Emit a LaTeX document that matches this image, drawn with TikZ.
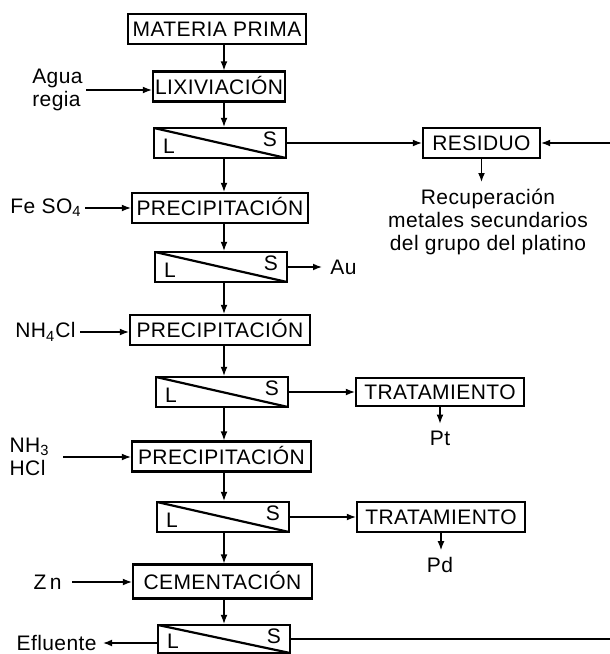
\documentclass[tikz,border=0pt]{standalone}
\usepackage{fontspec}
\setmainfont[LetterSpace=2]{Liberation Sans}
\usetikzlibrary{arrows.meta}

\tikzset{
  proc/.style={draw, line width=1.1pt, minimum height=15pt, inner sep=0pt,
    text height=7.5pt, text depth=0pt},
  letra/.style={draw=none, minimum width=0pt, minimum height=0pt, inner xsep=4pt, inner ysep=1.5pt},
  sepbox/.style={draw, line width=1.1pt, minimum width=66pt, minimum height=15pt, inner sep=0pt,
    path picture={
      \draw[line width=1.1pt] (path picture bounding box.north west) -- (path picture bounding box.south east);
      \node[letra, anchor=south west] at (path picture bounding box.south west) {L};
      \node[letra, anchor=north east] at (path picture bounding box.north east) {S};
    }},
  flecha/.style={line width=0.65pt, -{Latex[length=4.5pt,width=3.4pt]}},
  linea/.style={line width=0.65pt},
  entrada/.style={anchor=east, inner ysep=0pt, align=left}
}

\begin{document}
\begin{tikzpicture}[x=0.5pt, y=-0.5pt, font=\fontsize{10.5}{11.5}\selectfont]
    \useasboundingbox (0,0) rectangle (610,654);

    % Columna principal
    \node[proc, minimum width=89pt] (mp) at (217,29) {MATERIA PRIMA};
    \node[proc, minimum width=66pt] (lix) at (219,86.5) {LIXIVIACIÓN};
    \node[sepbox] (s1) at (220,143) {};
    \node[proc, minimum width=88pt] (pre1) at (220,208) {PRECIPITACIÓN};
    \node[sepbox] (s2) at (221,267) {};
    \node[proc, minimum width=90pt] (pre2) at (220,330) {PRECIPITACIÓN};
    \node[sepbox] (s3) at (222,392) {};
    \node[proc, minimum width=89.5pt] (pre3) at (221.5,456.5) {PRECIPITACIÓN};
    \node[sepbox] (s4) at (223,517) {};
    \node[proc, minimum width=89.5pt, minimum height=17pt] (cem) at (222.5,581.5) {CEMENTACIÓN};
    \node[sepbox, minimum height=14pt] (s5) at (224,639) {};

    \coordinate (eje) at (224,0);
    \foreach \a/\b in {mp/lix, lix/s1, s1/pre1, pre1/s2, s2/pre2, pre2/s3, s3/pre3, pre3/s4, s4/cem, cem/s5}
        \draw[flecha] (\a.south -| eje) -- (\b.north -| eje);

    % Reactivos
    \node[entrada, inner xsep=1.5pt] (agua) at (86,90) {Agua\\regia};
    \draw[flecha] (agua.east) -- (agua.east -| lix.west);
    \node[entrada, inner xsep=1.5pt] (feso) at (85,208) {Fe SO\textsubscript{4}};
    \draw[flecha] (feso.east) -- (feso.east -| pre1.west);
    \node[entrada, inner xsep=2pt] (nhcl) at (80,332) {NH\textsubscript{4}Cl};
    \draw[flecha] (nhcl.east) -- (nhcl.east -| pre2.west);
    \node[entrada, inner xsep=6.5pt] (nhtres) at (63,457) {NH\textsubscript{3}\\HCl};
    \draw[flecha] (nhtres.east) -- (nhtres.east -| pre3.west);
    \node[entrada, inner xsep=5pt] (zn) at (72,582) {Z\,n};
    \draw[flecha] (zn.east) -- (zn.east -| cem.west);

    % Residuo
    \node[proc, minimum width=58.5pt] (res) at (481.5,143) {RESIDUO};
    \draw[flecha] (s1.east) -- (res.west);
    \coordinate (retorno) at (610,143);
    \draw[flecha] (retorno) -- (res.east);
    \node[align=center] (rec) at (488,222) {Recuperación\\metales secundarios\\del grupo del platino};
    \draw[flecha] (res.south) -- (res.south |- rec.north);

    % Oro
    \node[anchor=west, inner xsep=4pt] (au) at (322,267) {Au};
    \draw[flecha] (s2.east) -- (au.west);

    % Tratamientos
    \node[proc, minimum width=84pt, minimum height=14pt] (trat1) at (440,392) {TRATAMIENTO};
    \draw[flecha] (s3.east) -- (trat1.west);
    \node (pt) at (440,438) {Pt};
    \draw[flecha] (trat1.south) -- (pt.north);
    \node[proc, minimum width=84pt] (trat2) at (441,517) {TRATAMIENTO};
    \draw[flecha] (s4.east) -- (trat2.west);
    \node (pd) at (440,565) {Pd};
    \draw[flecha] (trat2.south) -- (trat2.south |- pd.north);

    % Salidas finales
    \node[entrada, inner xsep=3pt] (efl) at (103,643) {Efluente};
    \draw[flecha] (s5.west |- efl.east) -- (efl.east);
    \coordinate (fondo) at (610,638);
    \draw[linea] (s5.east) -- (s5.east -| fondo);
\end{tikzpicture}
\end{document}
